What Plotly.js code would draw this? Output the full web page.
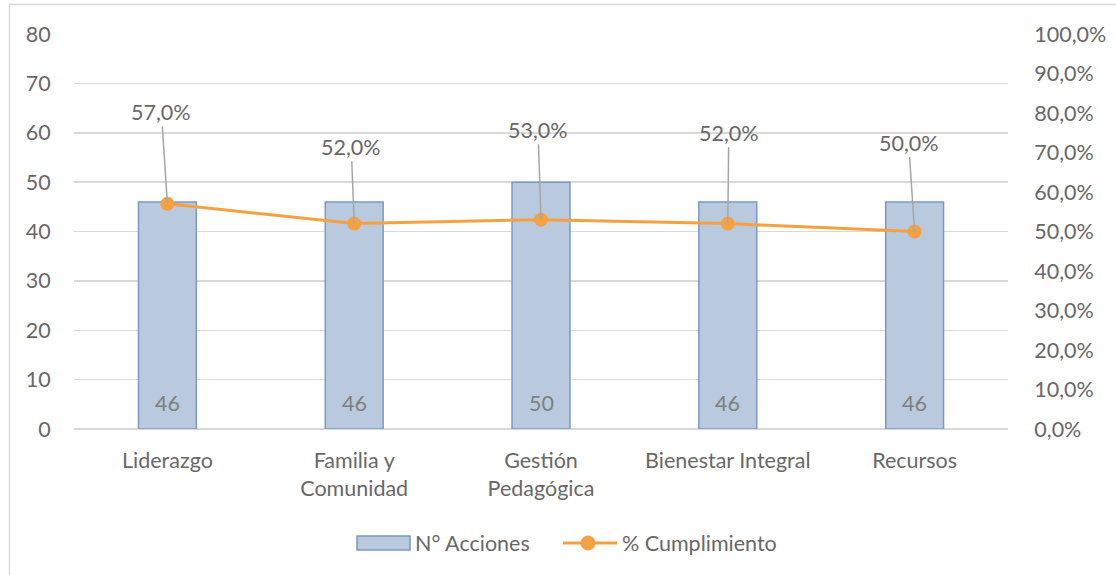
<!DOCTYPE html>
<html>
<head>
<meta charset="utf-8">
<script src="https://cdn.plot.ly/plotly-3.0.1.min.js"></script>
<style>
html,body{margin:0;padding:0;background:#fff;}
#chart{width:1116px;height:575px;}
</style>
</head>
<body>
<div id="chart"></div>
<script>
// ---- data ----
const categories = ["Liderazgo", "Familia y<br>Comunidad", "Gestión<br>Pedagógica", "Bienestar Integral", "Recursos"];
const acciones = [46, 46, 50, 46, 46];
const cumplimiento = [57.0, 52.0, 53.0, 52.0, 50.0];
const seriesNames = ["N° Acciones", "% Cumplimiento"];
const leftTicks = [0, 10, 20, 30, 40, 50, 60, 70, 80];
const rightTicks = [0, 10, 20, 30, 40, 50, 60, 70, 80, 90, 100];

// ---- style ----
const FONT = "Lato, 'Open Sans', sans-serif";
const TXT = "#686868";
const GRID = "#d9d9d9";
const BAR_FILL = "#b9c9de";
const BAR_LINE = "#7c98c3";
const ORANGE = "#f5a142";
const FS = 21.5;
// label offsets (px) for the percent data labels
const labelDx = [-6, -3, -3, 1, -6];
const labelDy = [-92, -77, -90, -91, -89];

// plot area in pixels
const L = 74, R = 1008, T = 34, B = 429, W = 1116, H = 575;
const px = v => (v - L) / (R - L);
const py = v => (B - v) / (B - T);

const fmt = v => v.toFixed(1).replace('.', ',') + '%';

const bar = {
  type: 'bar', x: categories, y: acciones, name: seriesNames[0],
  marker: {color: BAR_FILL, line: {color: BAR_LINE, width: 1.5}},
  width: 0.31, hoverinfo: 'skip', showlegend: false
};
const line = {
  type: 'scatter', mode: 'lines+markers', x: categories, y: cumplimiento, yaxis: 'y2',
  name: seriesNames[1],
  line: {color: ORANGE, width: 3},
  marker: {color: ORANGE, size: 14},
  hoverinfo: 'skip', showlegend: false
};

const annotations = [];
cumplimiento.forEach((v, i) => {
  annotations.push({
    x: categories[i], y: v, xref: 'x', yref: 'y2', text: fmt(v),
    showarrow: true, arrowhead: 0, arrowwidth: 1.5, arrowcolor: '#a6a6a6',
    ax: labelDx[i], ay: labelDy[i], standoff: 0,
    font: {family: FONT, size: FS, color: TXT}
  });
});
acciones.forEach((v, i) => {
  annotations.push({
    x: categories[i], y: 0, xref: 'x', yref: 'y', text: String(v),
    showarrow: false, yanchor: 'bottom', yshift: 11,
    font: {family: FONT, size: FS, color: '#7f7f7f'}
  });
});
// custom legend texts
annotations.push({xref: 'paper', yref: 'paper', x: px(413), y: py(543), xanchor: 'left', yanchor: 'middle',
  text: seriesNames[0], showarrow: false, font: {family: FONT, size: FS, color: TXT}});
annotations.push({xref: 'paper', yref: 'paper', x: px(620), y: py(543), xanchor: 'left', yanchor: 'middle',
  text: seriesNames[1], showarrow: false, font: {family: FONT, size: FS, color: TXT}});

const shapes = [
  // outer chart border
  {type: 'rect', xref: 'paper', yref: 'paper', x0: px(9.5), x1: px(W + 20), y0: py(H + 20), y1: py(4.5),
   line: {color: GRID, width: 1.5}, fillcolor: 'rgba(0,0,0,0)', layer: 'below'},
  // legend swatch for bars
  {type: 'rect', xref: 'paper', yref: 'paper', x0: px(357), x1: px(410), y0: py(550), y1: py(536),
   line: {color: BAR_LINE, width: 1.5}, fillcolor: BAR_FILL},
  // legend line
  {type: 'line', xref: 'paper', yref: 'paper', x0: px(563), x1: px(617), y0: py(543), y1: py(543),
   line: {color: ORANGE, width: 3}},
  {type: 'circle', xref: 'paper', yref: 'paper', x0: px(581), x1: px(595), y0: py(550), y1: py(536),
   line: {color: ORANGE, width: 1}, fillcolor: ORANGE}
];

const layout = {
  width: W, height: H,
  margin: {l: L, r: W - R, t: T, b: H - B, pad: 0},
  paper_bgcolor: '#fff', plot_bgcolor: '#fff',
  separators: ',.',
  font: {family: FONT, size: FS, color: TXT},
  showlegend: false,
  bargap: 0.69,
  xaxis: {
    type: 'category', showgrid: false, showline: false, zeroline: false,
    ticks: 'outside', ticklen: 12, tickcolor: 'rgba(0,0,0,0)',
    tickfont: {family: FONT, size: FS, color: TXT}, fixedrange: true
  },
  yaxis: {
    range: [0, 80], tickvals: leftTicks, showgrid: true, gridcolor: GRID, gridwidth: 1.5,
    zeroline: true, zerolinecolor: GRID, zerolinewidth: 1.5, showline: false,
    ticks: 'outside', ticklen: 18, tickcolor: 'rgba(0,0,0,0)',
    tickfont: {family: FONT, size: FS, color: TXT}, fixedrange: true
  },
  yaxis2: {
    range: [0, 100], tickvals: rightTicks, ticktext: rightTicks.map(fmt),
    overlaying: 'y', side: 'right',
    showgrid: false, zeroline: false, showline: false,
    ticks: 'outside', ticklen: 21, tickcolor: 'rgba(0,0,0,0)',
    tickfont: {family: FONT, size: FS, color: TXT}, fixedrange: true
  },
  annotations: annotations,
  shapes: shapes
};

Plotly.newPlot('chart', [bar, line], layout, {displayModeBar: false, staticPlot: true});
</script>
</body>
</html>
